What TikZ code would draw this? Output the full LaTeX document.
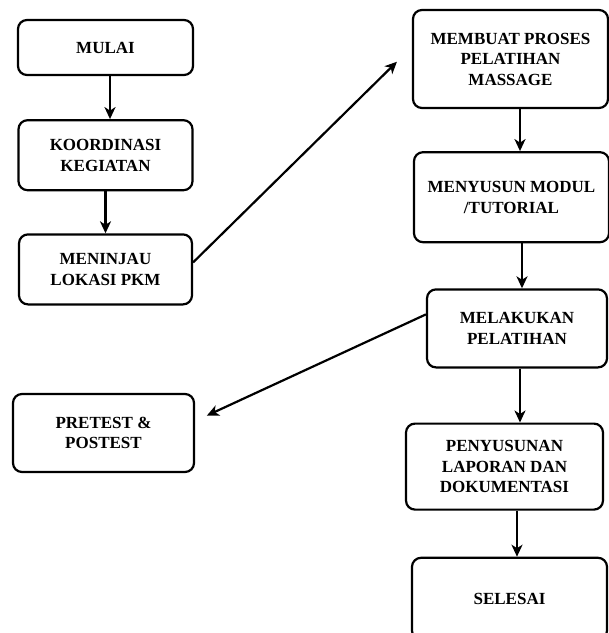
\documentclass[tikz,border=0pt]{standalone}
\usepackage{fontspec}
\setmainfont{Liberation Serif}
\usetikzlibrary{arrows.meta, positioning, calc}

\begin{document}
\begin{tikzpicture}[
    x=1pt, y=-1pt,
    line width=2.2pt,
    font=\fontsize{17}{20.5}\selectfont\bfseries,
    stepbox/.style={draw, rounded corners=9pt, align=center, inner sep=2pt},
    arrow/.style={-{Stealth[length=12pt, width=11pt, inset=3.5pt]}, line width=2.2pt}
]
\useasboundingbox (0,0) rectangle (609,633);

% ================= Left column =================
\node[stepbox, minimum width=175pt, minimum height=55pt] (mulai) at (105.5,47.5) {MULAI};
\node[stepbox, below=43pt of mulai, minimum width=174pt, minimum height=70pt] (koord) {KOORDINASI\\KEGIATAN};
\node[stepbox, below=42pt of koord, minimum width=173pt, minimum height=70pt] (meninjau) {MENINJAU\\LOKASI PKM};

\node[stepbox, minimum width=181pt, minimum height=78pt] (pretest) at (103.5,433) {PRETEST \&\\POSTEST};

% ================= Right column =================
\node[stepbox, minimum width=195pt, minimum height=98pt] (membuat) at (510.5,59) {MEMBUAT PROSES\\PELATIHAN\\MASSAGE};
\node[stepbox, below=42pt of membuat, xshift=1pt, minimum width=195pt, minimum height=90pt] (menyusun) {MENYUSUN MODUL\\/TUTORIAL};
\node[stepbox, below=45pt of menyusun, xshift=5.5pt, minimum width=180pt, minimum height=78pt] (melakukan) {MELAKUKAN\\PELATIHAN};
\node[stepbox, below=54pt of melakukan, xshift=-12.5pt, minimum width=197pt, minimum height=86pt] (penyusunan) {PENYUSUNAN\\LAPORAN DAN\\DOKUMENTASI};
\node[stepbox, below=46pt of penyusunan, xshift=5pt, minimum width=195pt, minimum height=82pt] (selesai) {SELESAI};

% Arrows (left path)
\draw[arrow] ($(mulai.south)+(4.5,0)$) -- ($(mulai.south |- koord.north)+(4.5,0)$);
\draw[arrow] (koord.south) -- (koord.south |- meninjau.north);

% Cross over to the right column
\draw[arrow, shorten >=21pt] ([yshift=7pt]meninjau.east) -- ([yshift=12pt]membuat.west);

% Arrows (right path)
\draw[arrow] ($(membuat.south)+(9.5,0)$) -- ($(membuat.south |- menyusun.north)+(9.5,0)$);
\draw[arrow] ($(menyusun.south)+(10.5,0)$) -- ($(menyusun.south |- melakukan.north)+(10.5,0)$);
\draw[arrow] ($(melakukan.south)+(3,0)$) -- ($(melakukan.south |- penyusunan.north)+(3,0)$);
\draw[arrow] ($(penyusunan.south)+(12.5,0)$) -- ($(penyusunan.south |- selesai.north)+(12.5,0)$);

% Branch to pretest
\draw[arrow, shorten >=13pt] ([yshift=14pt]melakukan.west) -- ([yshift=12pt]pretest.east);

\end{tikzpicture}
\end{document}
